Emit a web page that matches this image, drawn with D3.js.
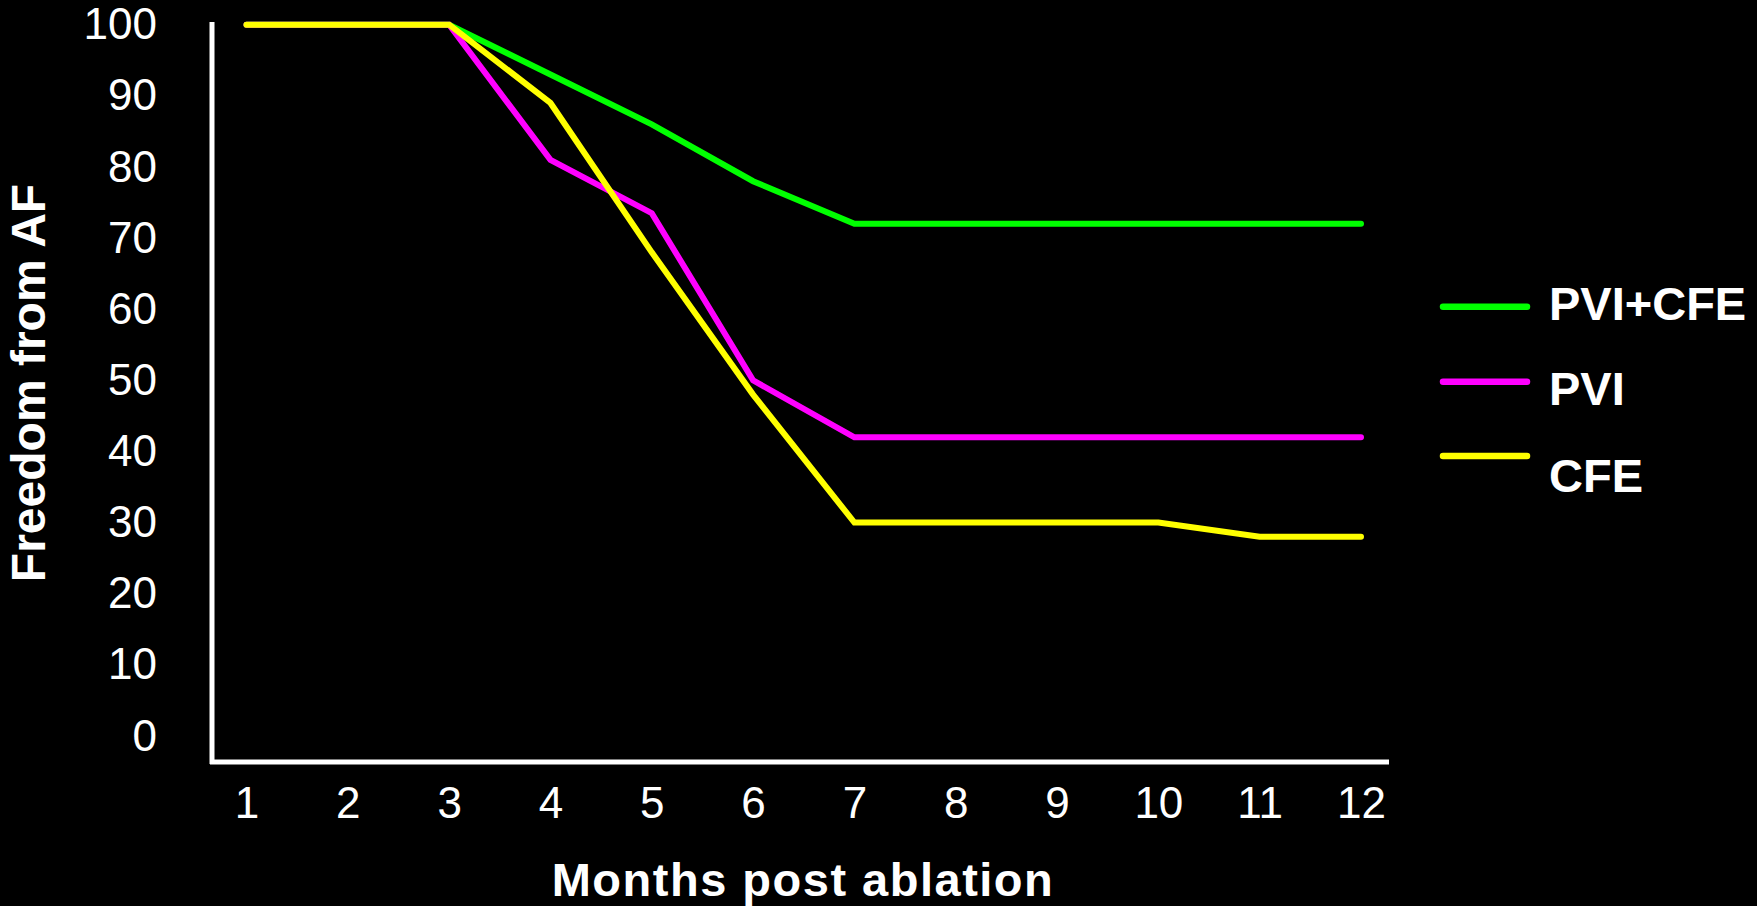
<!DOCTYPE html>
<html>
<head>
<meta charset="utf-8">
<script src="https://cdn.jsdelivr.net/npm/d3@7"></script>
<style>
  html, body { margin: 0; padding: 0; background: #000; }
  svg { display: block; }
  text { font-family: "Liberation Sans", Arial, sans-serif; fill: #fff; }
</style>
</head>
<body>
<svg id="chart" width="1757" height="906"></svg>
<script>
const months = [1, 2, 3, 4, 5, 6, 7, 8, 9, 10, 11, 12];
const pviCfe = [100, 100, 100, 93, 86, 78, 72, 72, 72, 72, 72, 72];
const pvi    = [100, 100, 100, 81, 73.5, 50, 42, 42, 42, 42, 42, 42];
const cfe    = [100, 100, 100, 89, 68, 48, 30, 30, 30, 30, 28, 28];
const yTicks = [0, 10, 20, 30, 40, 50, 60, 70, 80, 90, 100];
const seriesNames = ["PVI+CFE", "PVI", "CFE"];
const seriesColors = ["#00ff00", "#ff00ff", "#ffff00"];
const seriesValues = [pviCfe, pvi, cfe];

const svg = d3.select("#chart");
svg.append("rect").attr("width", 1757).attr("height", 906).attr("fill", "#000");

const x = d3.scaleLinear().domain([1, 12]).range([246.5, 1361]);
const y = d3.scaleLinear().domain([0, 100]).range([736, 24.7]);

const axisX0 = 212, axisY0 = 762;

// Y axis labels
const yAxis = svg.append("g")
  .attr("transform", `translate(${axisX0},0)`)
  .call(d3.axisLeft(y).tickValues(yTicks).tickSize(0).tickPadding(55).tickFormat(d3.format("d")));
yAxis.select(".domain").remove();
yAxis.selectAll("text")
  .attr("fill", "#fff")
  .style("font-size", "44px")
  .style("font-family", '"Liberation Sans", Arial, sans-serif');

// X axis labels
const xAxis = svg.append("g")
  .attr("transform", `translate(0,${axisY0})`)
  .call(d3.axisBottom(x).tickValues(months).tickSize(0).tickPadding(25).tickFormat(d3.format("d")));
xAxis.select(".domain").remove();
xAxis.selectAll("text")
  .attr("fill", "#fff")
  .style("font-size", "44px")
  .style("font-family", '"Liberation Sans", Arial, sans-serif');

// Axis lines
svg.append("line")
  .attr("x1", axisX0).attr("x2", axisX0)
  .attr("y1", 22).attr("y2", axisY0 + 2)
  .attr("stroke", "#fff").attr("stroke-width", 5);
svg.append("line")
  .attr("x1", axisX0 - 2).attr("x2", 1389)
  .attr("y1", axisY0).attr("y2", axisY0)
  .attr("stroke", "#fff").attr("stroke-width", 5);

// Lines
const line = d3.line()
  .x((d, i) => x(months[i]))
  .y(d => y(d));

seriesValues.forEach((vals, k) => {
  svg.append("path")
    .datum(vals)
    .attr("d", line)
    .attr("fill", "none")
    .attr("stroke", seriesColors[k])
    .attr("stroke-width", 6)
    .attr("stroke-linejoin", "miter")
    .attr("stroke-linecap", "round");
});

// Axis titles
svg.append("text")
  .attr("x", 803).attr("y", 896)
  .attr("text-anchor", "middle")
  .style("font-size", "47px")
  .style("font-weight", "bold")
  .style("letter-spacing", "1.5px")
  .text("Months post ablation");

svg.append("text")
  .attr("transform", "translate(45,383) rotate(-90)")
  .attr("text-anchor", "middle")
  .style("font-size", "48px")
  .style("font-weight", "bold")
  .text("Freedom from AF");

// Legend
const legLineY = [306.7, 381.7, 456];
const legTextY = [320, 405, 492];
seriesNames.forEach((name, k) => {
  svg.append("line")
    .attr("x1", 1443).attr("x2", 1527)
    .attr("y1", legLineY[k]).attr("y2", legLineY[k])
    .attr("stroke", seriesColors[k])
    .attr("stroke-width", 6.5)
    .attr("stroke-linecap", "round");
  svg.append("text")
    .attr("x", 1549).attr("y", legTextY[k])
    .style("font-size", "47px")
    .style("font-weight", "bold")
    .text(name);
});
</script>
</body>
</html>
